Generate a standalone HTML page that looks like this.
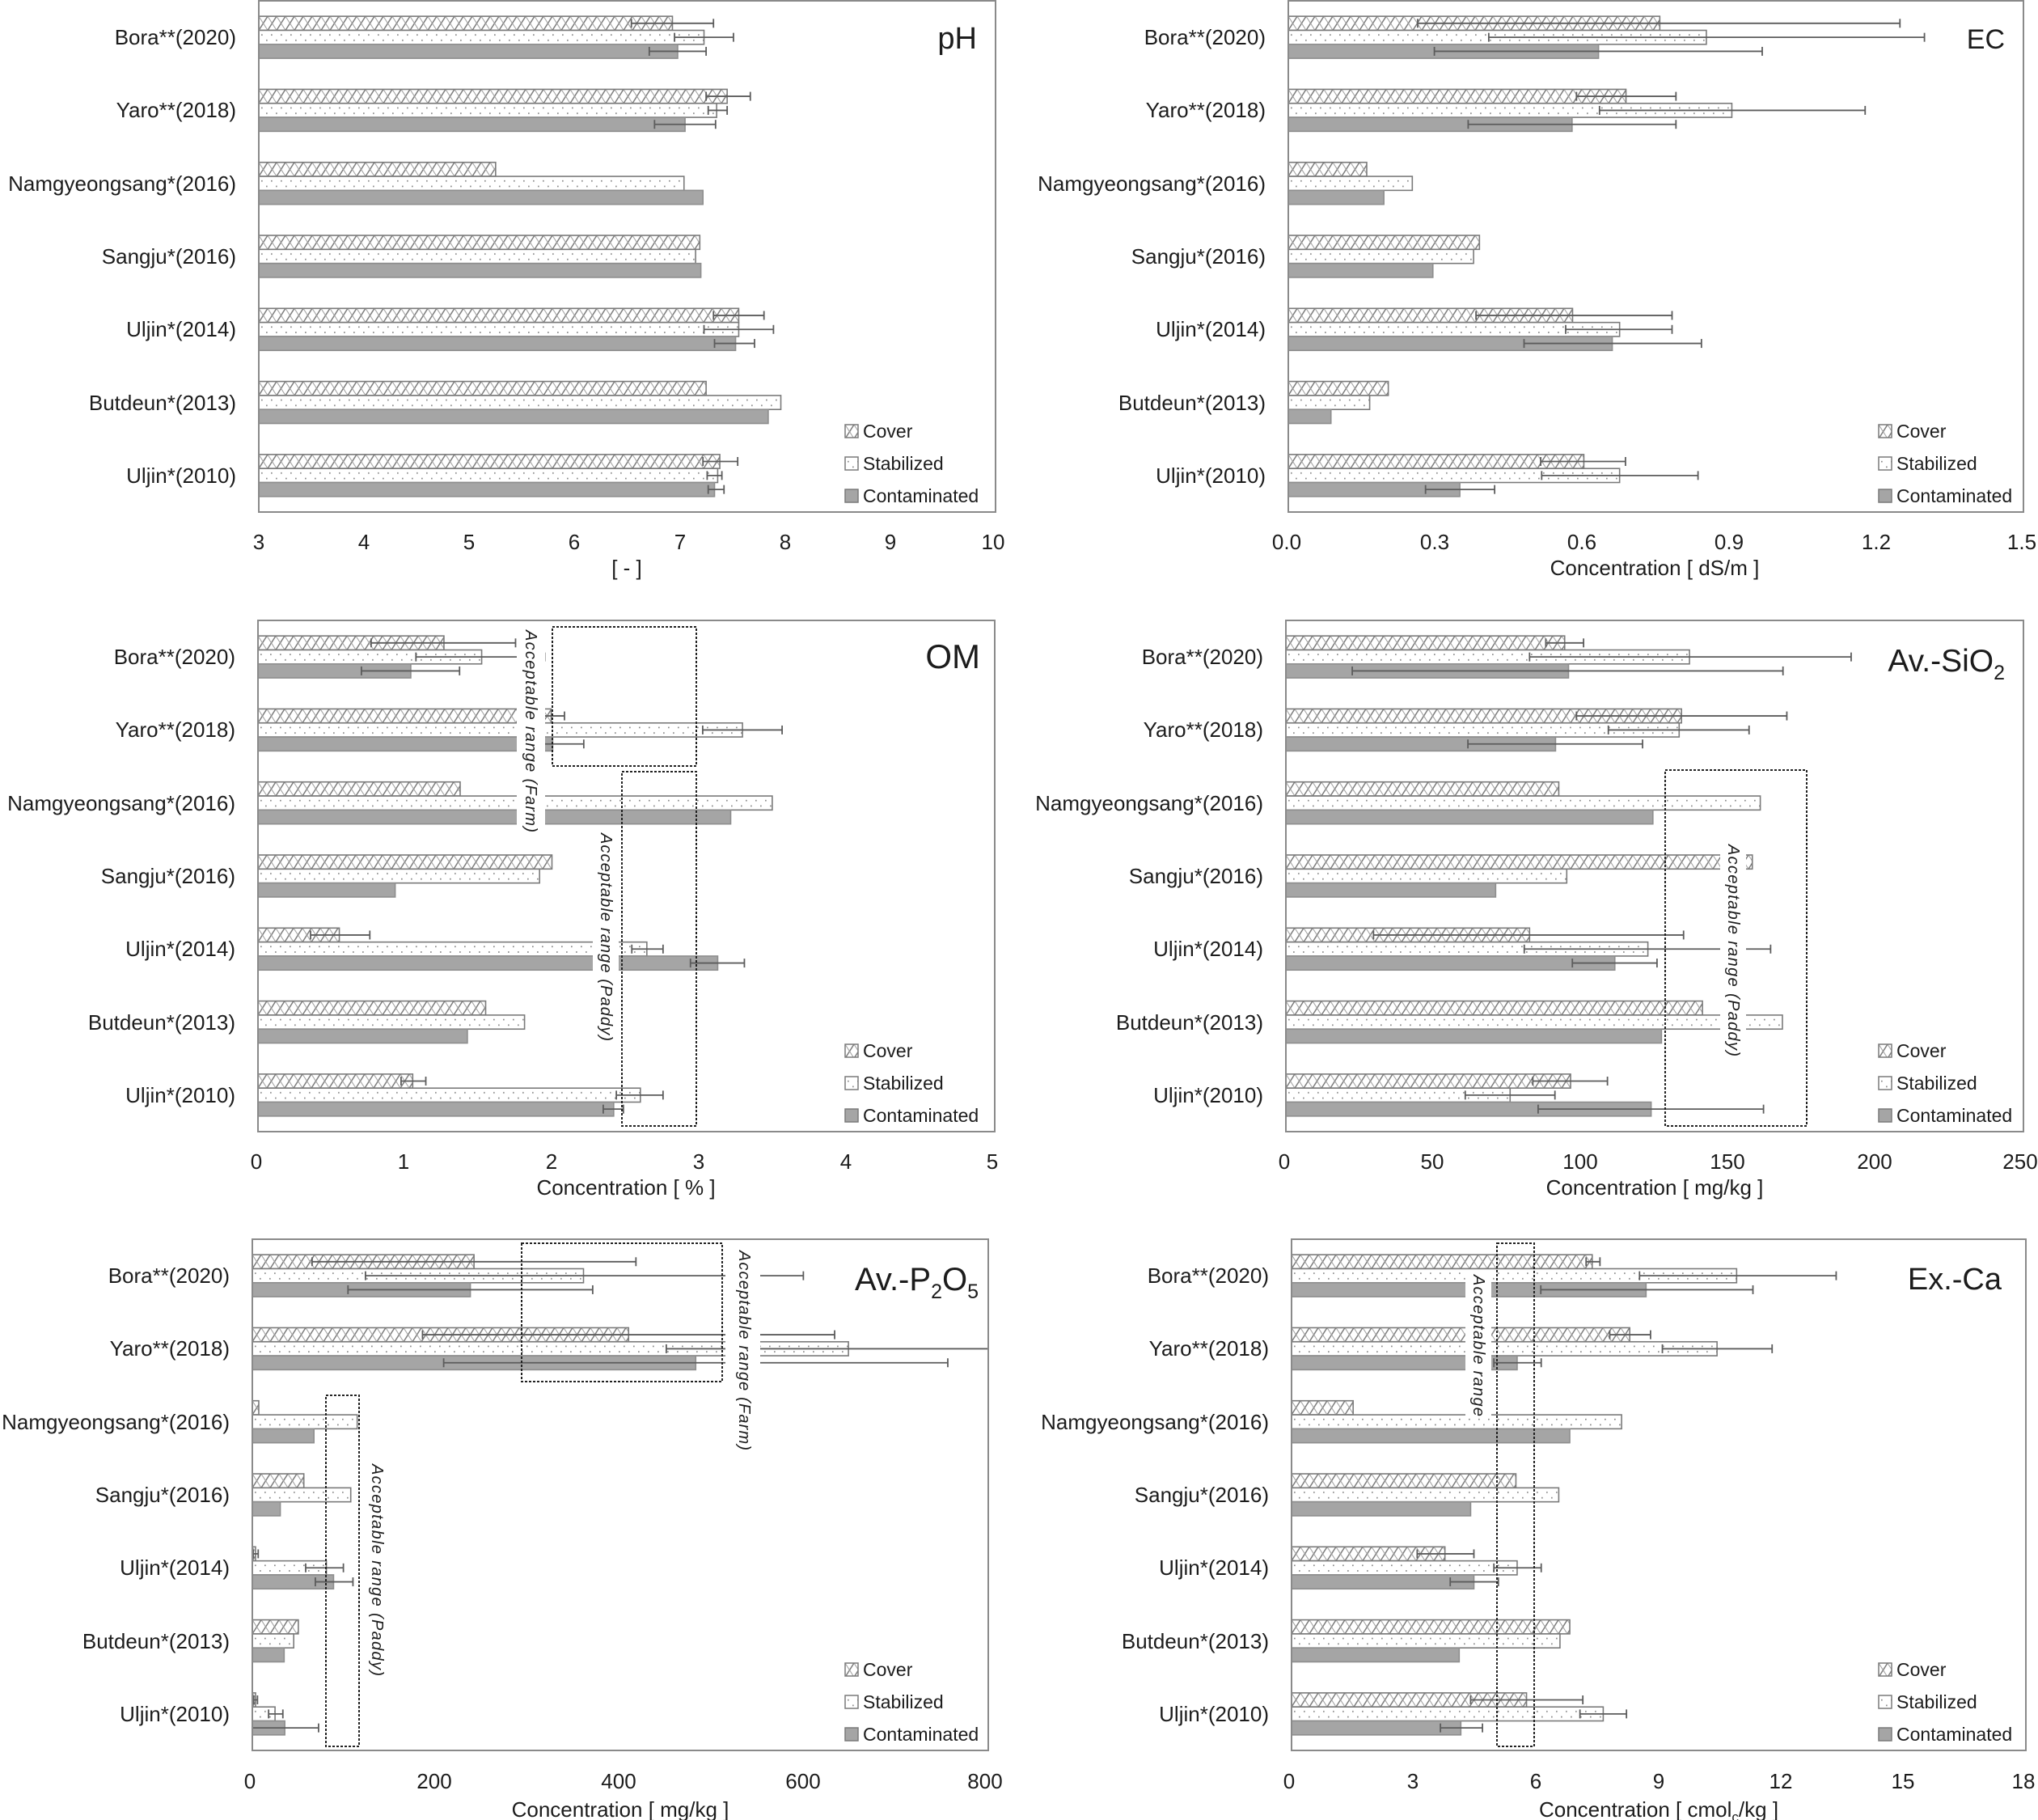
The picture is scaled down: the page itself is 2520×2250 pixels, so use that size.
<!DOCTYPE html>
<html><head><meta charset="utf-8">
<style>
html,body{margin:0;padding:0;background:#fff;}
svg{display:block;}
text{font-family:"Liberation Sans",Arial,sans-serif;fill:#1c1c1c;}
.cat{font-size:26px;text-anchor:end;}
.tk{font-size:26px;text-anchor:middle;}
.at{font-size:26px;text-anchor:middle;}
.lg{font-size:23px;}
.ti{text-anchor:end;}
.ar{font-size:20px;font-style:italic;dominant-baseline:central;}
</style></head><body>
<svg id="c" width="2520" height="2250" viewBox="0 0 2520 2250" xmlns="http://www.w3.org/2000/svg">
<defs>
<pattern id="hatch" patternUnits="userSpaceOnUse" width="11" height="17.3">
<rect width="11" height="17.3" fill="#fff"/>
<path d="M0,17.3 L11,0" stroke="#7a7a7a" stroke-width="1.5" fill="none"/>
<path d="M0,0 L11,17.3" stroke="#a0a0a0" stroke-width="1" fill="none"/>
</pattern>
<pattern id="dots" patternUnits="userSpaceOnUse" width="12" height="17.3">
<rect width="12" height="17.3" fill="#fff"/>
<rect x="3" y="4.8" width="1.7" height="1.7" fill="#8a8a8a"/>
<rect x="9" y="11.5" width="1.7" height="1.7" fill="#8a8a8a"/>
</pattern>
</defs>
<g id="bars"></g>

<!-- white text backgrounds -->
<g fill="#fff">
<rect x="639" y="776" width="35" height="254"/>
<rect x="733" y="1027" width="32" height="263"/>
<rect x="2127" y="1040" width="32" height="269"/>
<rect x="897" y="1541" width="43" height="256"/>
<rect x="452" y="1806" width="29" height="270"/>
<rect x="1812" y="1571" width="32" height="181"/>
</g>
<!-- acceptable range boxes -->
<g fill="none" stroke="#222" stroke-width="2" stroke-dasharray="3,2">
<rect x="683" y="775" width="178" height="172"/>
<rect x="769" y="954" width="92" height="438"/>
<rect x="2059" y="952" width="175" height="440"/>
<rect x="645" y="1537" width="248" height="171"/>
<rect x="403" y="1725" width="41" height="434"/>
<rect x="1851" y="1537" width="46" height="622"/>
</g>
<!-- acceptable range labels -->
<text class="ar" transform="translate(656,779) rotate(90)" textLength="250" lengthAdjust="spacing">Acceptable range (Farm)</text>
<text class="ar" transform="translate(749,1030) rotate(90)" textLength="257" lengthAdjust="spacing">Acceptable range (Paddy)</text>
<text class="ar" transform="translate(2143,1044) rotate(90)" textLength="262" lengthAdjust="spacing">Acceptable range (Paddy)</text>
<text class="ar" transform="translate(920,1546) rotate(90)" textLength="247" lengthAdjust="spacing">Acceptable range (Farm)</text>
<text class="ar" transform="translate(466,1810) rotate(90)" textLength="262" lengthAdjust="spacing">Acceptable range (Paddy)</text>
<text class="ar" transform="translate(1828,1576) rotate(90)" textLength="175" lengthAdjust="spacing">Acceptable range</text>

<!-- frames -->
<g fill="none" stroke="#8a8a8a" stroke-width="2">
<rect x="320" y="1" width="911" height="632"/>
<rect x="1593" y="1" width="909" height="632"/>
<rect x="319" y="767" width="911" height="632"/>
<rect x="1590" y="767" width="912" height="632"/>
<rect x="312" y="1532" width="910" height="632"/>
<rect x="1597" y="1532" width="908" height="632"/>
</g>

<!-- ================= Panel pH ================= -->
<g>
<text class="cat" x="292" y="55">Bora**(2020)</text>
<text class="cat" x="292" y="145">Yaro**(2018)</text>
<text class="cat" x="292" y="236">Namgyeongsang*(2016)</text>
<text class="cat" x="292" y="326">Sangju*(2016)</text>
<text class="cat" x="292" y="416">Uljin*(2014)</text>
<text class="cat" x="292" y="507">Butdeun*(2013)</text>
<text class="cat" x="292" y="597">Uljin*(2010)</text>
<text class="tk" x="320" y="679">3</text>
<text class="tk" x="450" y="679">4</text>
<text class="tk" x="580" y="679">5</text>
<text class="tk" x="710" y="679">6</text>
<text class="tk" x="841" y="679">7</text>
<text class="tk" x="971" y="679">8</text>
<text class="tk" x="1101" y="679">9</text>
<text class="tk" x="1228" y="679">10</text>
<text class="at" x="775" y="711">[ - ]</text>
<text class="ti" x="1208" y="60" font-size="38">pH</text>
</g>

<!-- ================= Panel EC ================= -->
<g>
<text class="cat" x="1565" y="55">Bora**(2020)</text>
<text class="cat" x="1565" y="145">Yaro**(2018)</text>
<text class="cat" x="1565" y="236">Namgyeongsang*(2016)</text>
<text class="cat" x="1565" y="326">Sangju*(2016)</text>
<text class="cat" x="1565" y="416">Uljin*(2014)</text>
<text class="cat" x="1565" y="507">Butdeun*(2013)</text>
<text class="cat" x="1565" y="597">Uljin*(2010)</text>
<text class="tk" x="1591" y="679">0.0</text>
<text class="tk" x="1774" y="679">0.3</text>
<text class="tk" x="1956" y="679">0.6</text>
<text class="tk" x="2138" y="679">0.9</text>
<text class="tk" x="2320" y="679">1.2</text>
<text class="tk" x="2500" y="679">1.5</text>
<text class="at" x="2046" y="711">Concentration [ dS/m ]</text>
<text class="ti" x="2479" y="60" font-size="34">EC</text>
</g>

<!-- ================= Panel OM ================= -->
<g>
<text class="cat" x="291" y="821">Bora**(2020)</text>
<text class="cat" x="291" y="911">Yaro**(2018)</text>
<text class="cat" x="291" y="1002">Namgyeongsang*(2016)</text>
<text class="cat" x="291" y="1092">Sangju*(2016)</text>
<text class="cat" x="291" y="1182">Uljin*(2014)</text>
<text class="cat" x="291" y="1273">Butdeun*(2013)</text>
<text class="cat" x="291" y="1363">Uljin*(2010)</text>
<text class="tk" x="317" y="1445">0</text>
<text class="tk" x="499" y="1445">1</text>
<text class="tk" x="682" y="1445">2</text>
<text class="tk" x="864" y="1445">3</text>
<text class="tk" x="1046" y="1445">4</text>
<text class="tk" x="1227" y="1445">5</text>
<text class="at" x="774" y="1477">Concentration [ % ]</text>
<text class="ti" x="1212" y="826" font-size="42">OM</text>
</g>

<!-- ================= Panel SiO2 ================= -->
<g>
<text class="cat" x="1562" y="821">Bora**(2020)</text>
<text class="cat" x="1562" y="911">Yaro**(2018)</text>
<text class="cat" x="1562" y="1002">Namgyeongsang*(2016)</text>
<text class="cat" x="1562" y="1092">Sangju*(2016)</text>
<text class="cat" x="1562" y="1182">Uljin*(2014)</text>
<text class="cat" x="1562" y="1273">Butdeun*(2013)</text>
<text class="cat" x="1562" y="1363">Uljin*(2010)</text>
<text class="tk" x="1588" y="1445">0</text>
<text class="tk" x="1771" y="1445">50</text>
<text class="tk" x="1954" y="1445">100</text>
<text class="tk" x="2136" y="1445">150</text>
<text class="tk" x="2318" y="1445">200</text>
<text class="tk" x="2498" y="1445">250</text>
<text class="at" x="2046" y="1477">Concentration [ mg/kg ]</text>
<text class="ti" x="2479" y="830" font-size="39">Av.-SiO<tspan font-size="25" dy="10">2</tspan></text>
</g>

<!-- ================= Panel P2O5 ================= -->
<g>
<text class="cat" x="284" y="1586">Bora**(2020)</text>
<text class="cat" x="284" y="1676">Yaro**(2018)</text>
<text class="cat" x="284" y="1767">Namgyeongsang*(2016)</text>
<text class="cat" x="284" y="1857">Sangju*(2016)</text>
<text class="cat" x="284" y="1947">Uljin*(2014)</text>
<text class="cat" x="284" y="2038">Butdeun*(2013)</text>
<text class="cat" x="284" y="2128">Uljin*(2010)</text>
<text class="tk" x="309" y="2211">0</text>
<text class="tk" x="537" y="2211">200</text>
<text class="tk" x="765" y="2211">400</text>
<text class="tk" x="993" y="2211">600</text>
<text class="tk" x="1218" y="2211">800</text>
<text class="at" x="767" y="2246">Concentration [ mg/kg ]</text>
<text class="ti" x="1210" y="1595" font-size="40">Av.-P<tspan font-size="25" dy="10">2</tspan><tspan dy="-10">O</tspan><tspan font-size="25" dy="10">5</tspan></text>
</g>

<!-- ================= Panel Ca ================= -->
<g>
<text class="cat" x="1569" y="1586">Bora**(2020)</text>
<text class="cat" x="1569" y="1676">Yaro**(2018)</text>
<text class="cat" x="1569" y="1767">Namgyeongsang*(2016)</text>
<text class="cat" x="1569" y="1857">Sangju*(2016)</text>
<text class="cat" x="1569" y="1947">Uljin*(2014)</text>
<text class="cat" x="1569" y="2038">Butdeun*(2013)</text>
<text class="cat" x="1569" y="2128">Uljin*(2010)</text>
<text class="tk" x="1594" y="2211">0</text>
<text class="tk" x="1747" y="2211">3</text>
<text class="tk" x="1899" y="2211">6</text>
<text class="tk" x="2051" y="2211">9</text>
<text class="tk" x="2202" y="2211">12</text>
<text class="tk" x="2353" y="2211">15</text>
<text class="tk" x="2502" y="2211">18</text>
<text class="at" x="2051" y="2246">Concentration [ cmol<tspan font-size="17" dy="6">c</tspan><tspan dy="-6">/kg ]</tspan></text>
<text class="ti" x="2475" y="1594" font-size="38">Ex.-Ca</text>
</g>

<!-- ================= Legends ================= -->
<g stroke="#7a7a7a" stroke-width="1.5">
<g transform="translate(1045,525)"><rect width="16" height="16" fill="url(#hatch)"/></g>
<g transform="translate(1045,565)"><rect width="16" height="16" fill="url(#dots)"/></g>
<g transform="translate(1045,605)"><rect width="16" height="16" fill="#a5a5a5"/></g>
<g transform="translate(2323,525)"><rect width="16" height="16" fill="url(#hatch)"/></g>
<g transform="translate(2323,565)"><rect width="16" height="16" fill="url(#dots)"/></g>
<g transform="translate(2323,605)"><rect width="16" height="16" fill="#a5a5a5"/></g>
<g transform="translate(1045,1291)"><rect width="16" height="16" fill="url(#hatch)"/></g>
<g transform="translate(1045,1331)"><rect width="16" height="16" fill="url(#dots)"/></g>
<g transform="translate(1045,1371)"><rect width="16" height="16" fill="#a5a5a5"/></g>
<g transform="translate(2323,1291)"><rect width="16" height="16" fill="url(#hatch)"/></g>
<g transform="translate(2323,1331)"><rect width="16" height="16" fill="url(#dots)"/></g>
<g transform="translate(2323,1371)"><rect width="16" height="16" fill="#a5a5a5"/></g>
<g transform="translate(1045,2056)"><rect width="16" height="16" fill="url(#hatch)"/></g>
<g transform="translate(1045,2096)"><rect width="16" height="16" fill="url(#dots)"/></g>
<g transform="translate(1045,2136)"><rect width="16" height="16" fill="#a5a5a5"/></g>
<g transform="translate(2323,2056)"><rect width="16" height="16" fill="url(#hatch)"/></g>
<g transform="translate(2323,2096)"><rect width="16" height="16" fill="url(#dots)"/></g>
<g transform="translate(2323,2136)"><rect width="16" height="16" fill="#a5a5a5"/></g>
</g>
<g class="lg">
<text class="lg" x="1067" y="541">Cover</text>
<text class="lg" x="1067" y="581">Stabilized</text>
<text class="lg" x="1067" y="621">Contaminated</text>
<text class="lg" x="2345" y="541">Cover</text>
<text class="lg" x="2345" y="581">Stabilized</text>
<text class="lg" x="2345" y="621">Contaminated</text>
<text class="lg" x="1067" y="1307">Cover</text>
<text class="lg" x="1067" y="1347">Stabilized</text>
<text class="lg" x="1067" y="1387">Contaminated</text>
<text class="lg" x="2345" y="1307">Cover</text>
<text class="lg" x="2345" y="1347">Stabilized</text>
<text class="lg" x="2345" y="1387">Contaminated</text>
<text class="lg" x="1067" y="2072">Cover</text>
<text class="lg" x="1067" y="2112">Stabilized</text>
<text class="lg" x="1067" y="2152">Contaminated</text>
<text class="lg" x="2345" y="2072">Cover</text>
<text class="lg" x="2345" y="2112">Stabilized</text>
<text class="lg" x="2345" y="2152">Contaminated</text>
</g>
</svg>
<script>
(function(){
var NS='http://www.w3.org/2000/svg';
var gB=document.getElementById('bars');
function el(tag,a,par){var e=document.createElementNS(NS,tag);for(var k in a)e.setAttribute(k,a[k]);(par||gB).appendChild(e);return e;}
var N=null;
var P=[
{L:320,R:1231,T:1,min:3,max:10,
 C:[6.93,7.45,5.25,7.19,7.56,7.25,7.38],
 Ce:[[6.54,7.32],[7.25,7.67],N,N,[7.32,7.80],N,[7.22,7.55]],
 S:[7.23,7.35,7.04,7.15,7.56,7.96,7.36],
 Se:[[6.95,7.51],[7.27,7.45],N,N,[7.23,7.89],N,[7.26,7.40]],
 K:[6.98,7.05,7.22,7.20,7.53,7.84,7.33],
 Ke:[[6.71,7.25],[6.76,7.34],N,N,[7.33,7.71],N,[7.27,7.42]]},
{L:1593,R:2502,T:1,min:0,max:1.5,
 C:[0.758,0.689,0.160,0.390,0.580,0.204,0.603],
 Ce:[[0.264,1.248],[0.588,0.791],N,N,[0.383,0.783],N,[0.515,0.688]],
 S:[0.853,0.905,0.253,0.378,0.676,0.166,0.676],
 Se:[[0.409,1.298],[0.635,1.177],N,N,[0.566,0.783],N,[0.517,0.836]],
 K:[0.633,0.579,0.195,0.295,0.661,0.087,0.350],
 Ke:[[0.298,0.967],[0.367,0.791],N,N,[0.481,0.843],N,[0.280,0.421]]},
{L:319,R:1230,T:767,min:0,max:5,
 C:[1.262,1.99,1.372,1.995,0.552,1.545,1.05],
 Ce:[[0.768,1.748],[1.90,2.08],N,N,[0.357,0.759],N,[0.971,1.139]],
 S:[1.518,3.288,3.49,1.911,2.639,1.809,2.595],
 Se:[[1.072,1.946],[3.018,3.557],N,N,[2.537,2.749],N,[2.432,2.749]],
 K:[1.037,2.0,3.208,0.931,3.12,1.421,2.414],
 Ke:[[0.702,1.368],[1.79,2.211],N,N,[2.935,3.301],N,[2.343,2.48]]},
{L:1590,R:2502,T:767,min:0,max:250,
 C:[94.5,134.1,92.5,158.1,82.6,141.2,96.5],
 Ce:[[88.1,100.9],[98.5,169.8],N,N,[29.7,134.8],N,[83.7,109.0]],
 S:[136.8,133.3,160.8,95.2,122.7,168.3,76.0],
 Se:[[82.6,191.6],[109.3,157.0],N,N,[80.8,164.3],N,[60.8,91.2]],
 K:[95.8,91.4,124.4,71.1,111.5,127.3,123.8],
 Ke:[[22.5,168.5],[61.7,120.9],N,N,[97.1,125.8],N,[85.5,161.9]]},
{L:312,R:1222,T:1532,min:0,max:800,
 C:[241,409,7,56,3.5,50,3.5],
 Ce:[[65,417],[185,633],N,N,[1,6.4],N,[1.5,5.6]],
 S:[360,648,114,107,80.5,45,24.7],
 Se:[[123,599],[450,846],N,N,[58,99],N,[17.7,33.2]],
 K:[237,482,67,30.4,88.3,34.6,35.3],
 Ke:[[104,370],[208,756],N,N,[68.5,109.4],N,[-2,72]]},
{L:1597,R:2505,T:1532,min:0,max:18,
 C:[7.37,8.29,1.51,5.50,3.76,6.82,5.76],
 Ce:[[7.22,7.56],[7.80,8.80],N,N,[3.08,4.47],N,[4.39,7.14]],
 S:[10.91,10.43,8.09,6.55,5.53,6.58,7.64],
 Se:[[8.53,13.35],[9.09,11.78],N,N,[4.96,6.12],N,[7.07,8.21]],
 K:[8.69,5.53,6.82,4.39,4.47,4.11,4.15],
 Ke:[[6.11,11.31],[4.96,6.12],N,N,[3.89,5.07],N,[3.65,4.68]]}
];
var H=632,step=H/7,bh=17.3;
var ebG=[];
P.forEach(function(p){
  function sx(v){return p.L+(v-p.min)/(p.max-p.min)*(p.R-p.L);}
  for(var i=0;i<7;i++){
    var cy=p.T+step*(i+0.5);
    var ser=[['C','url(#hatch)','#7a7a7a',cy-26],['S','url(#dots)','#7a7a7a',cy-8.65],['K','#a5a5a5','#8e8e8e',cy+8.65]];
    ser.forEach(function(s){
      var v=p[s[0]][i];var w=sx(v)-p.L;
      var g=el('g',{transform:'translate('+p.L+','+s[3].toFixed(2)+')'});
      el('rect',{x:0,y:0,width:w.toFixed(2),height:bh,fill:s[1],stroke:s[2],'stroke-width':1.6},g);
      var e=p[s[0]+'e'][i];
      if(e){ebG.push([sx(e[0]),sx(e[1]),s[3]+bh/2,p.L,p.R]);}
    });
  }
});
ebG.forEach(function(b){
  var x1=Math.max(b[3],b[0]),x2=Math.min(b[4],b[1]),y=b[2];
  var st={stroke:'#5c5c5c','stroke-width':1.8};
  function ln(a,bb,c,d){var o={x1:a,y1:bb,x2:c,y2:d};for(var k in st)o[k]=st[k];el('line',o);}
  ln(x1,y,x2,y);
  if(b[0]>=b[3])ln(x1,y-5.5,x1,y+5.5);
  if(b[1]<=b[4])ln(x2,y-5.5,x2,y+5.5);
});
})();
</script>
</body></html>
